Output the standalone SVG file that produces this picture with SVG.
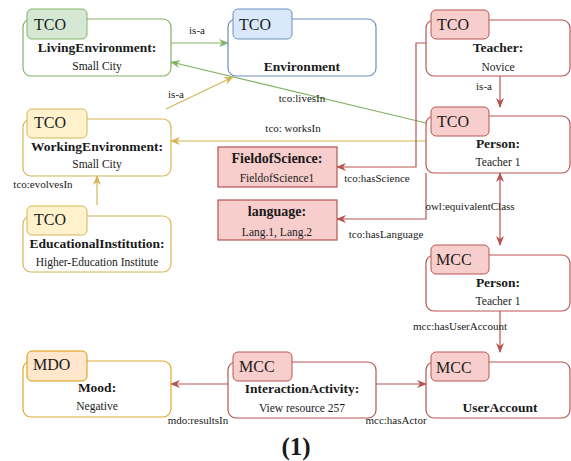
<svg xmlns="http://www.w3.org/2000/svg" width="571" height="461" viewBox="0 0 571 461">
<style>
text{font-family:"Liberation Serif","Times New Roman",serif;fill:#1a1a1a}
.tab{font-size:16px}
.ttl{font-size:13.5px;font-weight:bold;text-anchor:middle}
.sub{font-size:11.5px;text-anchor:middle}
.lbl{font-size:11px;text-anchor:middle}
.box{fill:#fff;stroke-width:1.2}
.g{stroke:#82b366}.gf{fill:#d5e8d4;stroke:#82b366}
.b{stroke:#6c8ebf}.bf{fill:#dae8fc;stroke:#6c8ebf}
.r{stroke:#b85450}.rf{fill:#f8cecc;stroke:#b85450}
.y{stroke:#d6b656}.yf{fill:#fff2cc;stroke:#d6b656}
.o{stroke:#d79b00}.of{fill:#ffe6cc;stroke:#d79b00}
.e{fill:none;stroke-width:1.2}
</style>
<defs>
<marker id="ag" viewBox="0 0 10 10" refX="9" refY="5" markerWidth="10" markerHeight="10" markerUnits="userSpaceOnUse" orient="auto-start-reverse"><path d="M0,1 L10,5 L0,9 L3,5 z" fill="#82b366"/></marker>
<marker id="ay" viewBox="0 0 10 10" refX="9" refY="5" markerWidth="10" markerHeight="10" markerUnits="userSpaceOnUse" orient="auto-start-reverse"><path d="M0,1 L10,5 L0,9 L3,5 z" fill="#d6b656"/></marker>
<marker id="ar" viewBox="0 0 10 10" refX="9" refY="5" markerWidth="10" markerHeight="10" markerUnits="userSpaceOnUse" orient="auto-start-reverse"><path d="M0,1 L10,5 L0,9 L3,5 z" fill="#b85450"/></marker>
</defs>

<g id="connectors">
<line class="e g" x1="171" y1="43" x2="228" y2="43" marker-end="url(#ag)"/>
<text class="lbl" x="197" y="34">is-a</text>
<line class="e g" x1="426" y1="123" x2="171" y2="62" marker-end="url(#ag)" stroke-width="1"/>
<text class="lbl" x="302" y="102">tco:livesIn</text>
<line class="e y" x1="166" y1="109" x2="233" y2="77" marker-end="url(#ay)"/>
<text class="lbl" x="176" y="98">is-a</text>
<line class="e y" x1="426" y1="141" x2="171" y2="141" marker-end="url(#ay)"/>
<text class="lbl" x="293" y="132">tco: worksIn</text>
<line class="e y" x1="97" y1="205" x2="97" y2="176" marker-end="url(#ay)"/>
<text class="lbl" x="43" y="188">tco:evolvesIn</text>
<line class="e r" x1="500" y1="76" x2="500" y2="107" marker-end="url(#ar)"/>
<text class="lbl" x="484" y="90">is-a</text>
<polyline class="e r" points="426,43 416,43 416,167 337,167" marker-end="url(#ar)"/>
<text class="lbl" x="377" y="182">tco:hasScience</text>
<polyline class="e r" points="426,173 426,219 337,219" marker-end="url(#ar)"/>
<text class="lbl" x="386" y="238">tco:hasLanguage</text>
<line class="e r" x1="500" y1="173" x2="500" y2="245" marker-start="url(#ar)" marker-end="url(#ar)"/>
<text class="lbl" x="470" y="210">owl:equivalentClass</text>
<line class="e r" x1="500" y1="311" x2="500" y2="352" marker-end="url(#ar)"/>
<text class="lbl" x="460" y="330">mcc:hasUserAccount</text>
<line class="e r" x1="376" y1="384" x2="426" y2="384" marker-end="url(#ar)"/>
<text class="lbl" x="396" y="424">mcc:hasActor</text>
<line class="e r" x1="228" y1="384" x2="171" y2="384" marker-end="url(#ar)"/>
<text class="lbl" x="198" y="424">mdo:resultsIn</text>
</g>

<g id="livingEnvironment">
<rect class="box g" x="23" y="19" width="148" height="57" rx="8"/>
<rect class="gf" x="27" y="9" width="60" height="30" rx="5"/>
<text class="tab" x="34" y="30">TCO</text>
<text class="ttl" x="97" y="52">LivingEnvironment:</text>
<text class="sub" x="97" y="70">Small City</text>
</g>

<g id="environment">
<rect class="box b" x="228" y="19" width="148" height="57" rx="8"/>
<rect class="bf" x="233" y="9" width="59" height="30" rx="5"/>
<text class="tab" x="239" y="30">TCO</text>
<text class="ttl" x="302" y="71">Environment</text>
</g>

<g id="teacher">
<rect class="box r" x="426" y="20" width="144" height="56" rx="8"/>
<rect class="rf" x="431" y="10" width="58" height="29" rx="5"/>
<text class="tab" x="437" y="30">TCO</text>
<text class="ttl" x="498" y="52">Teacher:</text>
<text class="sub" x="498" y="71">Novice</text>
</g>

<g id="personTCO">
<rect class="box r" x="426" y="116" width="144" height="57" rx="8"/>
<rect class="rf" x="431" y="107" width="58" height="29" rx="5"/>
<text class="tab" x="437" y="127">TCO</text>
<text class="ttl" x="498" y="148">Person:</text>
<text class="sub" x="498" y="166">Teacher 1</text>
</g>

<g id="personMCC">
<rect class="box r" x="426" y="255" width="144" height="56" rx="8"/>
<rect class="rf" x="431" y="245" width="58" height="29" rx="5"/>
<text class="tab" x="436" y="265">MCC</text>
<text class="ttl" x="498" y="287">Person:</text>
<text class="sub" x="498" y="305">Teacher 1</text>
</g>

<g id="userAccount">
<rect class="box r" x="426" y="362" width="144" height="56" rx="8"/>
<rect class="rf" x="431" y="352" width="58" height="29" rx="5"/>
<text class="tab" x="436" y="373">MCC</text>
<text class="ttl" x="500" y="412">UserAccount</text>
</g>

<g id="workingEnvironment">
<rect class="box y" x="23" y="119" width="148" height="57" rx="8"/>
<rect class="yf" x="27" y="109" width="60" height="29" rx="5"/>
<text class="tab" x="34" y="128">TCO</text>
<text class="ttl" x="97" y="151">WorkingEnvironment:</text>
<text class="sub" x="97" y="168">Small City</text>
</g>

<g id="educationalInstitution">
<rect class="box y" x="23" y="216" width="148" height="56" rx="8"/>
<rect class="yf" x="27" y="206" width="60" height="29" rx="5"/>
<text class="tab" x="34" y="225">TCO</text>
<text class="ttl" x="97" y="248">EducationalInstitution:</text>
<text class="sub" x="97" y="266">Higher-Education Institute</text>
</g>

<g id="fieldOfScience">
<rect class="rf" x="218" y="147" width="119" height="40" stroke-width="1.2"/>
<text class="ttl" x="277" y="163" style="font-size:14px">FieldofScience:</text>
<text class="sub" x="277" y="182">FieldofScience1</text>
</g>

<g id="language">
<rect class="rf" x="218" y="200" width="119" height="40" stroke-width="1.2"/>
<text class="ttl" x="277" y="216" style="font-size:14px">language:</text>
<text class="sub" x="277" y="236">Lang.1, Lang.2</text>
</g>

<g id="mood">
<rect class="box o" x="23" y="361" width="148" height="56" rx="8" style="stroke:#e0a830"/>
<rect class="of" x="27" y="351" width="60" height="30" rx="5"/>
<text class="tab" x="33" y="370">MDO</text>
<text class="ttl" x="97" y="392">Mood:</text>
<text class="sub" x="97" y="410">Negative</text>
</g>

<g id="interactionActivity">
<rect class="box r" x="228" y="362" width="148" height="56" rx="8"/>
<rect class="rf" x="233" y="352" width="59" height="29" rx="5"/>
<text class="tab" x="239" y="372">MCC</text>
<text class="ttl" x="302" y="393">InteractionActivity:</text>
<text class="sub" x="302" y="412">View resource 257</text>
</g>

<text x="296" y="455" style="font-size:25px;font-weight:bold;text-anchor:middle">(1)</text>
</svg>
